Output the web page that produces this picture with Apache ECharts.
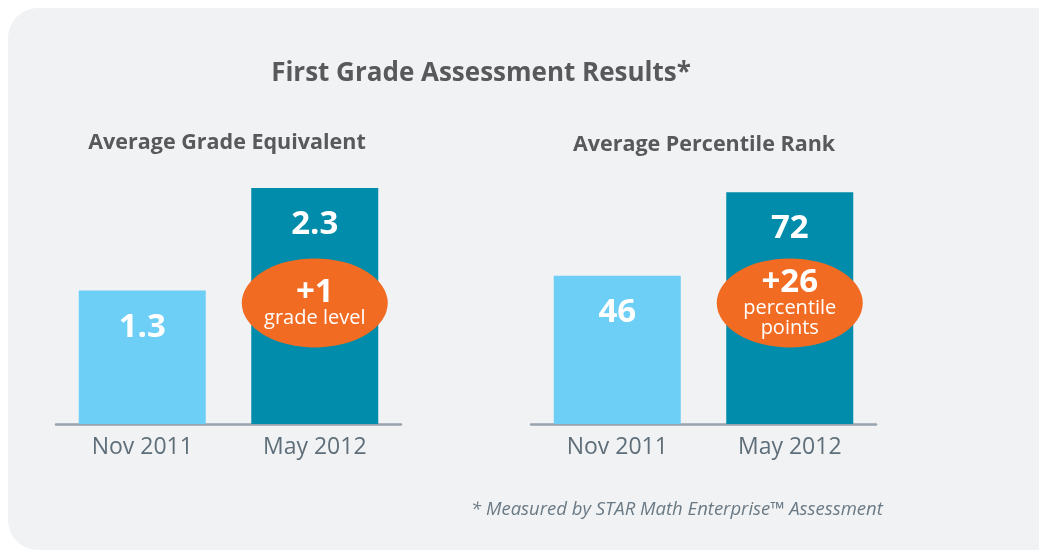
<!DOCTYPE html>
<html>
<head>
<meta charset="utf-8">
<script src="https://cdn.jsdelivr.net/npm/echarts@6/dist/echarts.min.js"></script>
<style>
  html, body { margin: 0; padding: 0; background: #ffffff; }
  #chart { width: 1039px; height: 554px; }
</style>
</head>
<body>
<div id="chart"></div>
<script>
// 数据
const months = ['Nov 2011', 'May 2012'];
const gradeEquivalent = [1.3, 2.3];
const percentileRank = [46, 72];
const gradeGain = '+1';
const percentileGain = '+26';

const barColors = ['#6dcff6', '#008caa'];
const fontFamily = '"Open Sans", "Noto Sans", sans-serif';

const chart = echarts.init(document.getElementById('chart'));

// 柱子 + 橙色椭圆标注
function barSeries(idx, data, badgeValue, badgeText) {
  return {
    type: 'bar',
    xAxisIndex: idx,
    yAxisIndex: idx,
    data: data,
    barWidth: 127,
    itemStyle: { color: (p) => barColors[p.dataIndex] },
    label: {
      show: true,
      position: 'insideTop',
      distance: 20,
      color: '#ffffff',
      fontFamily: fontFamily,
      fontWeight: 'bold',
      fontSize: 33
    },
    markPoint: {
      symbol: 'circle',
      symbolSize: [146, 89],
      itemStyle: { color: '#f26b22' },
      label: {
        show: true,
        position: 'inside',
        color: '#ffffff',
        fontFamily: fontFamily,
        formatter: badgeText,
        rich: {
          big: { fontSize: 33, fontWeight: 'bold', lineHeight: 30, color: '#ffffff', fontFamily: fontFamily },
          small: { fontSize: 20, lineHeight: 20, color: '#ffffff', fontFamily: fontFamily }
        }
      },
      data: [{ coord: [1, badgeValue] }]
    }
  };
}

chart.setOption({
  animation: false,
  backgroundColor: 'transparent',
  grid: [
    { left: 56, width: 345, top: 149, bottom: 130 },
    { left: 531, width: 345, top: 149, bottom: 130 }
  ],
  xAxis: [0, 1].map(i => ({
    type: 'category',
    gridIndex: i,
    data: months,
    axisLine: { lineStyle: { color: '#97a3ad', width: 2.5 } },
    axisTick: { show: false },
    axisLabel: {
      color: '#5f6f7a',
      fontFamily: fontFamily,
      fontSize: 23,
      margin: 12
    }
  })),
  yAxis: [
    { type: 'value', gridIndex: 0, min: 0, max: 2.68, show: false },
    { type: 'value', gridIndex: 1, min: 0, max: 85.4, show: false }
  ],
  graphic: [
    {
      type: 'rect',
      z: -10,
      shape: { x: 8, y: 8, width: 1080, height: 542, r: 30 },
      style: { fill: '#f1f2f4' }
    },
    {
      type: 'text',
      x: 481, y: 74,
      style: {
        text: 'First Grade Assessment Results*',
        font: 'bold 26px ' + fontFamily,
        fill: '#58595b',
        align: 'center',
        verticalAlign: 'middle'
      }
    },
    {
      type: 'text',
      x: 227, y: 143,
      style: {
        text: 'Average Grade Equivalent',
        font: 'bold 21.5px ' + fontFamily,
        fill: '#58595b',
        align: 'center',
        verticalAlign: 'middle'
      }
    },
    {
      type: 'text',
      x: 704, y: 145,
      style: {
        text: 'Average Percentile Rank',
        font: 'bold 21.5px ' + fontFamily,
        fill: '#58595b',
        align: 'center',
        verticalAlign: 'middle'
      }
    },
    {
      type: 'text',
      x: 471, y: 510,
      style: {
        text: '* Measured by STAR Math Enterprise\u2122 Assessment',
        font: 'italic 18.5px ' + fontFamily,
        fill: '#6a7a85',
        align: 'left',
        verticalAlign: 'middle'
      }
    }
  ],
  series: [
    barSeries(0, gradeEquivalent, 1.18, '{big|' + gradeGain + '}\n{small|grade level}'),
    barSeries(1, percentileRank, 37.6, '{big|' + percentileGain + '}\n{small|percentile}\n{small|points}')
  ]
});
</script>
</body>
</html>
